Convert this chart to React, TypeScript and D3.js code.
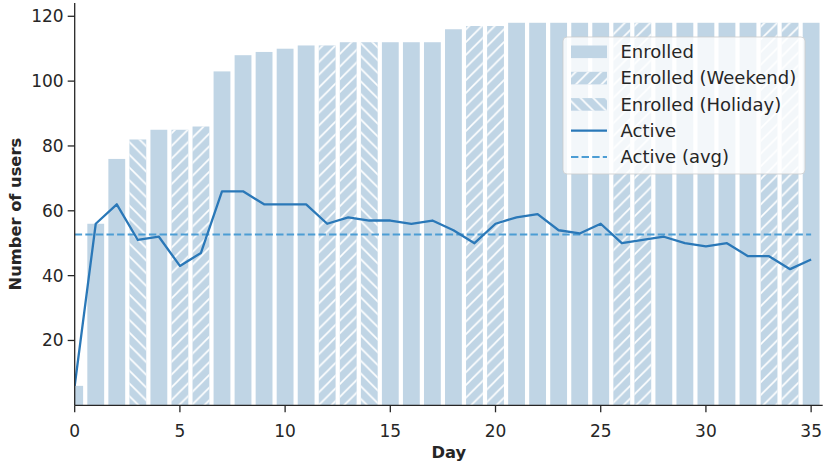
import React, { useEffect } from "react";
// @ts-ignore
import * as d3 from "d3";

const W = 830;
const H = 461;

// daily values
const days = d3.range(0, 36);
const enrolled = [
  6, 56, 76, 82, 85, 85, 86, 103, 108, 109, 110, 111, 111, 112, 112, 112, 112, 112,
  116, 117, 117, 118, 118, 118, 118, 118, 118, 118, 118, 118, 118, 118, 118, 118, 118, 118,
];
const active = [
  6, 56, 62, 51, 52, 43, 47, 66, 66, 62, 62, 62, 56, 58, 57, 57, 56, 57,
  54, 50, 56, 58, 59, 54, 53, 56, 50, 51, 52, 50, 49, 50, 46, 46, 42, 45,
];
const weekendDays = [5, 6, 12, 13, 19, 20, 26, 27, 33, 34];
const holidayDays = [3, 14];

const xTicks = [0, 5, 10, 15, 20, 25, 30, 35];
const yTicks = [20, 40, 60, 80, 100, 120];

const legendItems = [
  { label: "Enrolled", kind: "bar", hatch: null },
  { label: "Enrolled (Weekend)", kind: "bar", hatch: "hatchWeekend" },
  { label: "Enrolled (Holiday)", kind: "bar", hatch: "hatchHoliday" },
  { label: "Active", kind: "line", hatch: null },
  { label: "Active (avg)", kind: "dash", hatch: null },
];

const BAR = "#c0d5e5";
const LINE = "#2a78b8";
const AVG = "#4c9dd4";
const INK = "#262626";
const FONT = "DejaVu Sans, sans-serif";

const M = { left: 74.7, right: 822.7, top: 3, bottom: 405.3 };

const x = d3.scaleLinear().domain([0, 35.55]).range([M.left, M.right]);
const y = d3.scaleLinear().domain([0, 124.1]).range([M.bottom, M.top]);

const BW = 0.8;
const HS = 12.7; // hatch spacing

function hatchFor(day: number) {
  if (holidayDays.includes(day)) return "url(#hatchHoliday)";
  if (weekendDays.includes(day)) return "url(#hatchWeekend)";
  return null;
}

export default function App() {
  useEffect(() => {
    document.body.style.margin = "0";
  }, []);

  const avg = d3.mean(active) as number;
  const line = d3
    .line<number>()
    .x((_, i) => x(days[i]))
    .y((d) => y(d));

  const lg = { x: 563, y: 37, w: 242, h: 137 };
  const rowY = (i: number) => 51.8 + i * 26.3;

  return (
    <svg width={W} height={H} style={{ display: "block", fontFamily: FONT }}>
      <defs>
        <clipPath id="plot">
          <rect x={M.left} y={0} width={M.right - M.left + 2} height={M.bottom} />
        </clipPath>
        <pattern id="hatchWeekend" patternUnits="userSpaceOnUse" width={HS} height={HS}>
          <path
            d={`M0,${HS} L${HS},0 M-2,2 L2,-2 M${HS - 2},${HS + 2} L${HS + 2},${HS - 2}`}
            stroke="#fff"
            strokeWidth={1.6}
          />
        </pattern>
        <pattern id="hatchHoliday" patternUnits="userSpaceOnUse" width={HS} height={HS}>
          <path
            d={`M0,0 L${HS},${HS} M-2,${HS - 2} L2,${HS + 2} M${HS - 2},-2 L${HS + 2},2`}
            stroke="#fff"
            strokeWidth={1.6}
          />
        </pattern>
      </defs>

      <g clipPath="url(#plot)">
        {days.map((d, i) => {
          const x0 = x(d - BW / 2);
          const w = x(d + BW / 2) - x0;
          const h = hatchFor(d);
          return (
            <g key={d}>
              <rect x={x0} y={y(enrolled[i])} width={w} height={y(0) - y(enrolled[i])} fill={BAR} />
              {h && (
                <rect x={x0} y={y(enrolled[i])} width={w} height={y(0) - y(enrolled[i])} fill={h} />
              )}
            </g>
          );
        })}
        <line
          x1={x(0)}
          x2={x(35)}
          y1={y(avg)}
          y2={y(avg)}
          stroke={AVG}
          strokeWidth={2}
          strokeDasharray="7.4,3.2"
        />
        <path d={line(active) as string} fill="none" stroke={LINE} strokeWidth={2.3} strokeLinejoin="round" />
      </g>

      {/* axes */}
      <line x1={M.left} x2={M.left} y1={M.top} y2={M.bottom} stroke={INK} strokeWidth={1.3} />
      <line x1={M.left} x2={M.right} y1={M.bottom} y2={M.bottom} stroke={INK} strokeWidth={1.3} />
      {yTicks.map((t) => (
        <g key={t} transform={`translate(0,${y(t)})`}>
          <line x1={M.left - 7} x2={M.left} stroke={INK} strokeWidth={1.3} />
          <text x={M.left - 11} dy="0.35em" textAnchor="end" fontSize={17} fill={INK}>
            {t}
          </text>
        </g>
      ))}
      {xTicks.map((t) => (
        <g key={t} transform={`translate(${x(t)},${M.bottom})`}>
          <line y1={0} y2={7} stroke={INK} strokeWidth={1.3} />
          <text y={31.5} textAnchor="middle" fontSize={17} fill={INK}>
            {t}
          </text>
        </g>
      ))}
      <text
        transform={`translate(15.5,${(M.top + M.bottom) / 2 + 10}) rotate(-90)`}
        textAnchor="middle"
        dy="0.35em"
        fontSize={16.3}
        fontWeight="bold"
        fill={INK}
      >
        Number of users
      </text>
      <text x={(M.left + M.right) / 2} y={458} textAnchor="middle" fontSize={16.3} fontWeight="bold" fill={INK}>
        Day
      </text>

      {/* legend */}
      <g>
        <rect
          x={lg.x}
          y={lg.y}
          width={lg.w}
          height={lg.h}
          rx={4}
          fill="#fff"
          fillOpacity={0.8}
          stroke="#cccccc"
          strokeOpacity={0.8}
        />
        {legendItems.map((it, i) => {
          const cy = rowY(i);
          return (
            <g key={it.label}>
              {it.kind === "bar" && (
                <>
                  <rect x={571} y={cy - 6.3} width={36} height={12.6} fill={BAR} />
                  {it.hatch && <rect x={571} y={cy - 6.3} width={36} height={12.6} fill={`url(#${it.hatch})`} />}
                </>
              )}
              {it.kind === "line" && <line x1={571} x2={607} y1={cy} y2={cy} stroke={LINE} strokeWidth={2.3} />}
              {it.kind === "dash" && (
                <line x1={571} x2={607} y1={cy} y2={cy} stroke={AVG} strokeWidth={2} strokeDasharray="7.4,3.2" />
              )}
              <text x={620.5} y={cy} dy="0.35em" fontSize={18} fill={INK}>
                {it.label}
              </text>
            </g>
          );
        })}
      </g>
    </svg>
  );
}
